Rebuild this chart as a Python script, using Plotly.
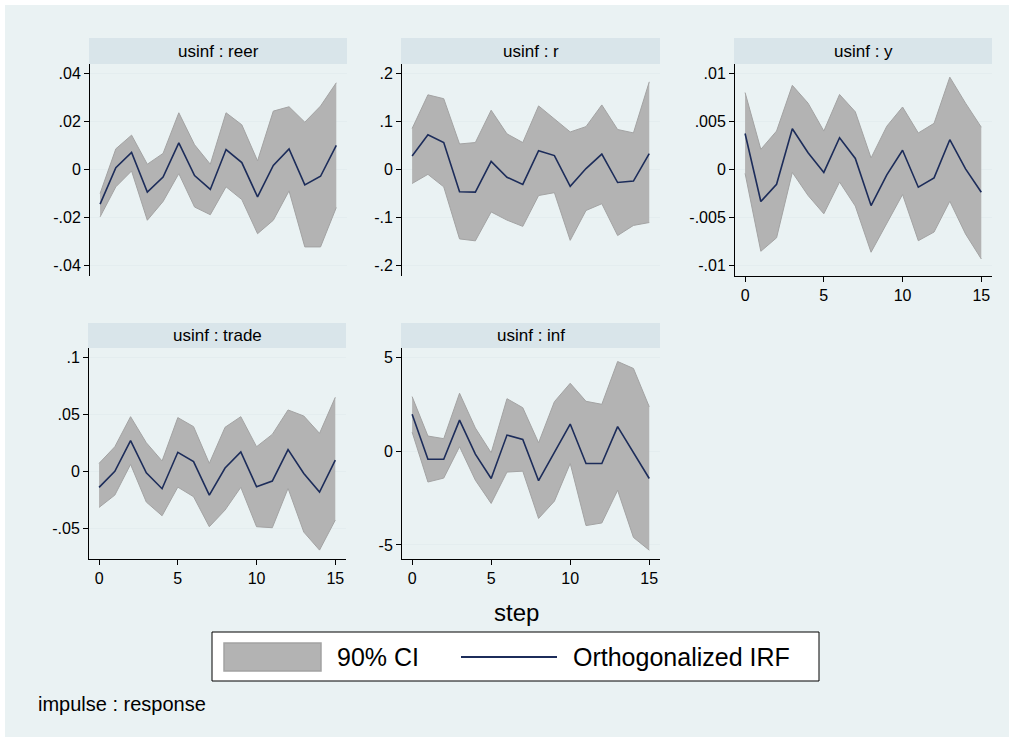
import plotly.graph_objects as go

# ---------------- data ----------------
steps = list(range(16))

titles = ["usinf : reer", "usinf : r", "usinf : y", "usinf : trade", "usinf : inf"]

reer_irf = [-0.0144, 0.0008, 0.0071, -0.0094, -0.0031, 0.0111, -0.0025, -0.0083,
            0.0083, 0.0029, -0.0114, 0.0017, 0.0086, -0.0064, -0.0028, 0.0100]
reer_hi = [-0.0100, 0.0086, 0.0143, 0.0022, 0.0067, 0.0236, 0.0103, 0.0022,
           0.0236, 0.0186, 0.0036, 0.0243, 0.0261, 0.0197, 0.0264, 0.0361]
reer_lo = [-0.0197, -0.0072, -0.0006, -0.0211, -0.0133, -0.0017, -0.0156, -0.0188,
           -0.0072, -0.0125, -0.0267, -0.0211, -0.0089, -0.0322, -0.0322, -0.0158]

r_irf = [0.028, 0.072, 0.056, -0.046, -0.047, 0.017, -0.016, -0.031,
         0.039, 0.029, -0.035, 0.002, 0.032, -0.027, -0.024, 0.033]
r_hi = [0.085, 0.155, 0.147, 0.053, 0.056, 0.123, 0.074, 0.056,
        0.132, 0.105, 0.078, 0.089, 0.134, 0.083, 0.076, 0.182]
r_lo = [-0.029, -0.010, -0.036, -0.144, -0.148, -0.088, -0.105, -0.118,
        -0.054, -0.048, -0.147, -0.085, -0.071, -0.137, -0.116, -0.110]

y_irf = [0.00375, -0.00333, -0.00153, 0.00424, 0.00174, -0.0003, 0.0033, 0.00115,
         -0.00375, -0.00056, 0.0020, -0.00184, -0.00087, 0.0031, 0.00007, -0.00236]
y_hi = [0.0080, 0.0021, 0.0040, 0.00875, 0.0069, 0.0040, 0.0078, 0.0060,
        0.0012, 0.0045, 0.0065, 0.0038, 0.0048, 0.0096, 0.0069, 0.0044]
y_lo = [-0.0004, -0.0085, -0.0071, -0.0003, -0.0027, -0.0046, -0.0013, -0.0038,
        -0.0086, -0.0056, -0.0026, -0.0074, -0.0065, -0.0033, -0.0067, -0.0093]

trade_irf = [-0.0137, 0.0003, 0.0272, -0.0009, -0.0149, 0.0170, 0.0088, -0.0205,
             0.0032, 0.0173, -0.0132, -0.0082, 0.0193, -0.0015, -0.0178, 0.0102]
trade_hi = [0.0073, 0.0219, 0.0482, 0.0254, 0.0094, 0.0474, 0.0395, 0.0073,
            0.0389, 0.0482, 0.0219, 0.0327, 0.0541, 0.0488, 0.0336, 0.0652]
trade_lo = [-0.0313, -0.0205, 0.0064, -0.0266, -0.0386, -0.0135, -0.0219, -0.0482,
            -0.0336, -0.0137, -0.0482, -0.0491, -0.0146, -0.0529, -0.0687, -0.0424]

inf_irf = [1.96, -0.44, -0.44, 1.65, -0.16, -1.46, 0.85, 0.62,
           -1.58, -0.04, 1.44, -0.66, -0.66, 1.30, -0.07, -1.46]
inf_hi = [2.90, 0.80, 0.66, 3.08, 1.23, -0.09, 2.79, 2.31,
          0.44, 2.63, 3.61, 2.65, 2.49, 4.77, 4.40, 2.36]
inf_lo = [1.01, -1.65, -1.44, 0.23, -1.55, -2.79, -1.12, -1.07,
          -3.59, -2.67, -0.66, -3.97, -3.83, -2.09, -4.60, -5.28]

irfs = [reer_irf, r_irf, y_irf, trade_irf, inf_irf]
his = [reer_hi, r_hi, y_hi, trade_hi, inf_hi]
los = [reer_lo, r_lo, y_lo, trade_lo, inf_lo]

ytickvals = [[-0.04, -0.02, 0, 0.02, 0.04],
             [-0.2, -0.1, 0, 0.1, 0.2],
             [-0.01, -0.005, 0, 0.005, 0.01],
             [-0.05, 0, 0.05, 0.1],
             [-5, 0, 5]]
yticktext = [["-.04", "-.02", "0", ".02", ".04"],
             ["-.2", "-.1", "0", ".1", ".2"],
             ["-.01", "-.005", "0", ".005", ".01"],
             ["-.05", "0", ".05", ".1"],
             ["-5", "0", "5"]]
xtickvals = [0, 5, 10, 15]

legend_labels = ["90% CI", "Orthogonalized IRF"]
note_text = "impulse : response"
xtitle_text = "step"

# ---------------- layout / style ----------------
W, H = 1014, 742
FONT = "Liberation Sans, Arial, Helvetica, sans-serif"
BG = "#eaf2f3"
STRIP = "#d9e5ea"
BAND = "#b3b3b3"
BAND_EDGE = "#a3a3a3"
NAVY = "#1c2c5a"
GRID = "#e4edef"


def px(x):
    return x / W


def py(y):
    return 1 - y / H


# pixel boxes: (left, right, top, bottom) of plot area, header top
panels = [
    (90, 347, 64, 276, 38),
    (402, 660, 64, 276, 38),
    (735, 992, 64, 276, 38),
    (89, 346, 348, 559, 323),
    (402, 660, 348, 559, 323),
]
yranges = [[-0.0443, 0.0439], [-0.221, 0.219], [-0.01107, 0.01097],
           [-0.0765, 0.1084], [-5.75, 5.49]]
show_x = [False, False, True, True, True]

fig = go.Figure()
shapes = []
annotations = []

shapes.append(dict(type="rect", xref="paper", yref="paper",
                   x0=px(5), x1=px(1009), y0=py(737), y1=py(5),
                   fillcolor=BG, line=dict(width=0), layer="below"))

for i in range(5):
    xa = "x" if i == 0 else f"x{i+1}"
    ya = "y" if i == 0 else f"y{i+1}"
    fig.add_trace(go.Scatter(x=steps, y=his[i], mode="lines",
                             line=dict(color=BAND_EDGE, width=1),
                             xaxis=xa, yaxis=ya, showlegend=False,
                             hoverinfo="skip"))
    fig.add_trace(go.Scatter(x=steps, y=los[i], mode="lines",
                             line=dict(color=BAND_EDGE, width=1),
                             fill="tonexty", fillcolor=BAND,
                             xaxis=xa, yaxis=ya, showlegend=False,
                             hoverinfo="skip"))
    fig.add_trace(go.Scatter(x=steps, y=irfs[i], mode="lines",
                             line=dict(color=NAVY, width=1.6),
                             xaxis=xa, yaxis=ya, showlegend=False))

    l, r, t, b, ht = panels[i]
    xkey = "xaxis" if i == 0 else f"xaxis{i+1}"
    ykey = "yaxis" if i == 0 else f"yaxis{i+1}"
    fig.update_layout(**{
        xkey: dict(domain=[px(l), px(r)], anchor=ya, range=[-0.64, 15.68],
                   showgrid=False, zeroline=False,
                   showline=show_x[i], linecolor="black", linewidth=1,
                   ticks="outside" if show_x[i] else "",
                   ticklen=5, tickcolor="black",
                   tickvals=xtickvals, showticklabels=show_x[i],
                   tickfont=dict(family=FONT, size=16, color="black")),
        ykey: dict(domain=[py(b), py(t)], anchor=xa, range=yranges[i],
                   showgrid=True, gridcolor=GRID, gridwidth=1, zeroline=False,
                   showline=True, linecolor="black", linewidth=1,
                   ticks="outside", ticklen=5, tickcolor="black",
                   tickvals=ytickvals[i], ticktext=yticktext[i],
                   tickfont=dict(family=FONT, size=16, color="black")),
    })
    shapes.append(dict(type="rect", xref="paper", yref="paper",
                       x0=px(l - 1), x1=px(r), y0=py(t), y1=py(ht),
                       fillcolor=STRIP, line=dict(width=0), layer="below"))
    annotations.append(dict(xref="paper", yref="paper",
                            x=px((l + r) / 2), y=py((ht + t) / 2),
                            text=titles[i], showarrow=False,
                            xanchor="center", yanchor="middle",
                            font=dict(family=FONT, size=17, color="black")))

# x-axis title
annotations.append(dict(xref="paper", yref="paper", x=px(516), y=py(612),
                        text=xtitle_text, showarrow=False,
                        xanchor="center", yanchor="middle",
                        font=dict(family=FONT, size=24, color="black")))

# legend box
shapes.append(dict(type="rect", xref="paper", yref="paper",
                   x0=px(212), x1=px(819), y0=py(681), y1=py(632),
                   fillcolor="white", line=dict(color="black", width=1)))
shapes.append(dict(type="rect", xref="paper", yref="paper",
                   x0=px(224), x1=px(321), y0=py(671), y1=py(643),
                   fillcolor=BAND, line=dict(color=BAND_EDGE, width=1.5)))
shapes.append(dict(type="line", xref="paper", yref="paper",
                   x0=px(461), x1=px(557), y0=py(657), y1=py(657),
                   line=dict(color=NAVY, width=2)))
annotations.append(dict(xref="paper", yref="paper", x=px(335), y=py(657),
                        text=legend_labels[0], showarrow=False,
                        xanchor="left", yanchor="middle",
                        font=dict(family=FONT, size=25, color="black")))
annotations.append(dict(xref="paper", yref="paper", x=px(571), y=py(657),
                        text=legend_labels[1], showarrow=False,
                        xanchor="left", yanchor="middle",
                        font=dict(family=FONT, size=25, color="black")))

# note
annotations.append(dict(xref="paper", yref="paper", x=px(36), y=py(704),
                        text=note_text, showarrow=False,
                        xanchor="left", yanchor="middle",
                        font=dict(family=FONT, size=20, color="black")))

fig.update_layout(width=W, height=H, margin=dict(l=0, r=0, t=0, b=0),
                  paper_bgcolor="white", plot_bgcolor="white",
                  showlegend=False, shapes=shapes, annotations=annotations)

fig.write_html("out.html")
